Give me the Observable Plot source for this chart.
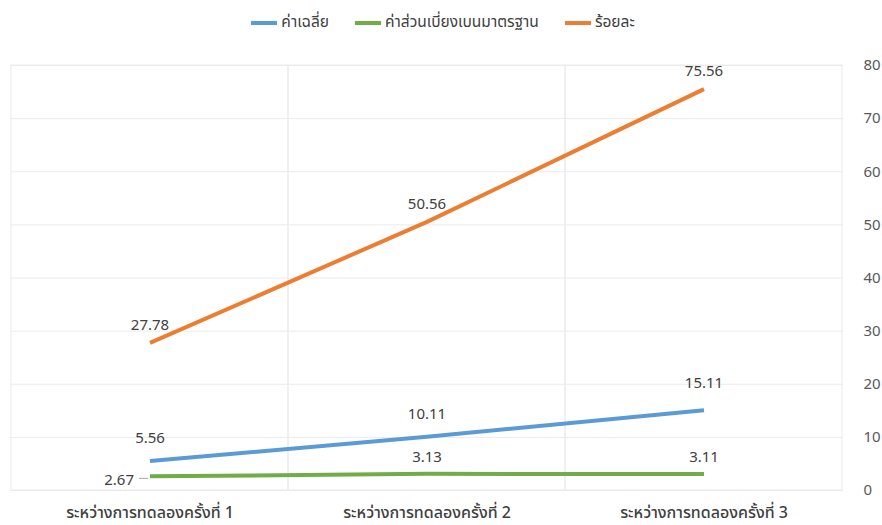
<!DOCTYPE html>
<html><head><meta charset="utf-8">
<script src="https://cdn.jsdelivr.net/npm/d3@7"></script>
<script src="https://cdn.jsdelivr.net/npm/@observablehq/plot@0.6"></script>
<style>
body{margin:0;background:#fff;font-family:Tahoma,"Noto Sans Thai","DejaVu Sans",sans-serif;}
#legend{height:45px;display:flex;justify-content:center;align-items:center;gap:26px;font-size:15.5px;color:#404040;padding-left:4px;box-sizing:border-box}
.item{display:flex;align-items:center;gap:4px}
.sw{width:26px;height:4px;display:inline-block}
#chart svg{display:block}
</style></head><body>
<div id="legend"></div><div id="chart"></div>
<script>
const categories = ["ระหว่างการทดลองครั้งที่ 1", "ระหว่างการทดลองครั้งที่ 2", "ระหว่างการทดลองครั้งที่ 3"];
const seriesNames = ["ค่าเฉลี่ย", "ค่าส่วนเบี่ยงเบนมาตรฐาน", "ร้อยละ"];
const meanValues = [5.56, 10.11, 15.11];
const sdValues = [2.67, 3.13, 3.11];
const percentValues = [27.78, 50.56, 75.56];
const yTicks = [0, 10, 20, 30, 40, 50, 60, 70, 80];
const colors = ["#5B9BD5", "#70AD47", "#ED7D31"];

const allSeries = [meanValues, sdValues, percentValues];
const rows = [];
allSeries.forEach((vals, s) => vals.forEach((v, i) => rows.push({series: seriesNames[s], cat: categories[i], value: v, idx: i})));
const bySeries = name => rows.filter(r => r.series === name);

const legend = document.getElementById("legend");
seriesNames.forEach((n, i) => {
  const it = document.createElement("div"); it.className = "item";
  const sw = document.createElement("span"); sw.className = "sw"; sw.style.background = colors[i];
  const t = document.createElement("span"); t.textContent = n;
  it.append(sw, t); legend.append(it);
});

const fmt = d3.format(".2f");
const labelStyle = {fontSize: 15, fill: "#404040", text: d => fmt(d.value)};
const mean = bySeries(seriesNames[0]);
const sd = bySeries(seriesNames[1]);
const pct = bySeries(seriesNames[2]);

const chart = Plot.plot({
  width: 882, height: 480,
  marginTop: 20, marginBottom: 35, marginLeft: 10, marginRight: 39,
  style: {fontFamily: 'Tahoma,"Noto Sans Thai","DejaVu Sans",sans-serif', fontSize: "15px", color: "#404040"},
  x: {type: "band", domain: categories, padding: 0, axis: null},
  y: {domain: [0, 80], axis: null},
  color: {domain: seriesNames, range: colors},
  marks: [
    Plot.ruleY(yTicks, {stroke: "#ebebeb"}),
    Plot.barY(categories, {x: d => d, y1: 0, y2: 80, fill: "none", stroke: "#ebebeb"}),
    Plot.axisY({anchor: "right", ticks: yTicks, tickSize: 0, tickPadding: 20, textAnchor: "start", fill: "#595959", fontSize: 15, label: null}),
    Plot.axisX({anchor: "bottom", tickSize: 0, tickPadding: 16, fill: "#404040", fontSize: 16, fontWeight: 500, label: null}),
    Plot.line(rows, {x: "cat", y: "value", z: "series", stroke: "series", strokeWidth: 4, strokeLinecap: "butt"}),
    Plot.text(mean.filter(d => d.idx < 2), {x: "cat", y: "value", dy: -23, ...labelStyle}),
    Plot.text(mean.filter(d => d.idx === 2), {x: "cat", y: "value", dy: -27, ...labelStyle}),
    Plot.text(sd.filter(d => d.idx > 0), {x: "cat", y: "value", dy: -17, ...labelStyle}),
    Plot.text(sd.filter(d => d.idx === 0), {x: "cat", y: "value", dx: -16, dy: 4, textAnchor: "end", ...labelStyle}),
    Plot.tickY(sd.filter(d => d.idx === 0), {x: "cat", y: "value", dy: 2, insetLeft: 128, insetRight: 140, stroke: "#a6a6a6", strokeWidth: 1}),
    Plot.text(pct, {x: "cat", y: "value", dy: -18, ...labelStyle})
  ]
});
document.getElementById("chart").append(chart);
</script>
</body></html>
